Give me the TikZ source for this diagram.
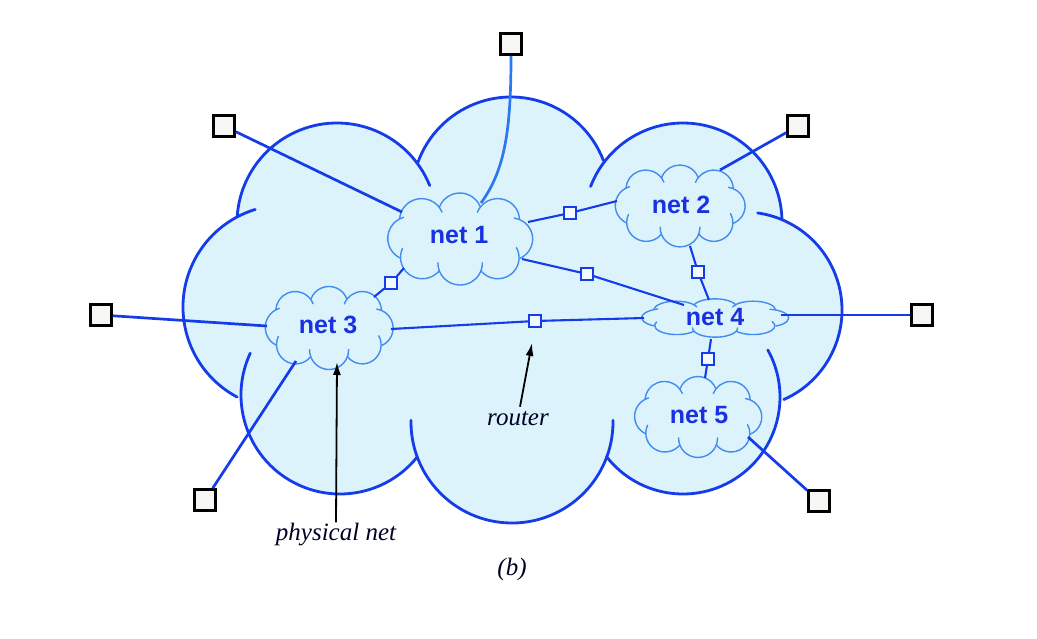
\documentclass[tikz,border=0pt]{standalone}
\usepackage{fontspec}
\setmainfont{Liberation Serif}
\newfontfamily\netfont{Liberation Sans}
\usetikzlibrary{arrows.meta}
\definecolor{cloudfill}{RGB}{221,243,252}
\definecolor{bigline}{RGB}{20,60,232}
\definecolor{smallline}{RGB}{65,140,238}
\definecolor{netblue}{RGB}{25,50,225}
\definecolor{hostfill}{RGB}{246,246,242}
\definecolor{topline}{RGB}{45,120,238}
\tikzset{
  pics/cloudy/.style={code={
    \fill[cloudfill] (-226.5,-3) circle[radius=102] (-174.5,-87) circle[radius=100]
      (-0.5,-114) circle[radius=99] (171.5,-88) circle[radius=99] (232.5,0) circle[radius=98]
      (171.5,87) circle[radius=97] (0.5,112) circle[radius=101] (-171.5,85) circle[radius=99];
    \fill[cloudfill] (-226.5,-3) -- (-174.5,-87) -- (-0.5,-114) -- (171.5,-88) -- (232.5,0)
      -- (171.5,87) -- (0.5,112) -- (-171.5,85) -- cycle;
    \draw[#1] (-226.5,-3) ++(-107:102) arc[start angle=-107,end angle=-242,radius=102];
    \draw[#1] (-174.5,-87) ++(-22:100) arc[start angle=-22,end angle=-176,radius=100];
    \draw[#1] (-0.5,-114) ++(-21:99) arc[start angle=-21,end angle=-160,radius=99];
    \draw[#1] (171.5,-88) ++(-2:99) arc[start angle=-2,end angle=-159,radius=99];
    \draw[#1] (232.5,0) ++(66:98) arc[start angle=66,end angle=-82,radius=98];
    \draw[#1] (171.5,87) ++(-218:97) arc[start angle=-218,end angle=-389,radius=97];
    \draw[#1] (0.5,112) ++(-179:101) arc[start angle=-179,end angle=-361,radius=101];
    \draw[#1] (-171.5,85) ++(-155:99) arc[start angle=-155,end angle=-321,radius=99];
  }},
  bigcloud/.style={draw=bigline, line width=2.8pt, line cap=round},
  smallcloud/.style={draw=smallline, line width=1.4pt, line cap=round},
  host/.style={draw=black, line width=2.6pt, fill=hostfill, minimum size=21pt, inner sep=0pt},
  router/.style={draw=bigline, line width=1.5pt, fill=cloudfill!40!white, minimum size=12pt, inner sep=0pt},
  hostline/.style={draw=bigline, line width=2.7pt},
  routerline/.style={draw=bigline, line width=2.1pt},
  nettext/.style={text=netblue, font=\netfont\bfseries\fontsize{25}{28}\selectfont, inner sep=0pt, anchor=base},
  lbl/.style={font=\itshape\fontsize{25}{28}\selectfont, inner sep=0pt, anchor=base, text=black!85!blue},
  pointer/.style={draw=black, line width=1.8pt, -{Latex[length=13pt,width=8pt]}}
}
\begin{document}
\begin{tikzpicture}[x=1pt,y=-1pt]
\useasboundingbox[fill=white] (0,0) rectangle (1037,638);
% big cloud
\pic at (511.5,310) {cloudy=bigcloud};
% small clouds
\pic[xscale=0.220,yscale=0.216] at (460,239) {cloudy=smallcloud};
\pic[xscale=0.197,yscale=0.192] at (680,206) {cloudy=smallcloud};
\pic[xscale=0.194,yscale=0.195] at (329,328) {cloudy=smallcloud};
\pic[xscale=0.223,yscale=0.090] at (715,318) {cloudy=smallcloud};
\pic[xscale=0.193,yscale=0.190] at (698,417) {cloudy=smallcloud};
% net labels
\node[nettext] (net1) at (459,243) {net 1};
\node[nettext] (net2) at (681,213) {net 2};
\node[nettext] (net3) at (328,333) {net 3};
\node[nettext] (net4) at (715,325) {net 4};
\node[nettext] (net5) at (699,423) {net 5};
% attach points on the small clouds
\coordinate (n1top) at (481,203);
\coordinate (n1w) at (402,212);
\coordinate (n1e) at (528,222);
\coordinate (n1se) at (522,259);
\coordinate (n1sw) at (404,268);
\coordinate (n2ne) at (720,170);
\coordinate (n2w) at (617,201);
\coordinate (n2s) at (690,246);
\coordinate (n3w) at (267,326);
\coordinate (n3sw) at (296,361);
\coordinate (n3ne) at (374,297);
\coordinate (n3e) at (391,329);
\coordinate (n4e) at (781,315);
\coordinate (n4nw) at (684,305);
\coordinate (n4n) at (709,300);
\coordinate (n4w) at (644,318);
\coordinate (n4s) at (711,339);
\coordinate (n5n) at (705,378);
\coordinate (n5se) at (748,437);
% hosts
\node[host] (hT) at (511,44) {};
\node[host] (hTL) at (224,126) {};
\node[host] (hTR) at (798,126) {};
\node[host] (hL) at (101,315) {};
\node[host] (hR) at (922,315) {};
\node[host] (hBL) at (205,500) {};
\node[host] (hBR) at (819,501) {};
% routers
\node[router] (r12) at (570,213) {};
\node[router] (r14) at (587,274) {};
\node[router] (r13) at (391,283) {};
\node[router] (r24) at (698,272) {};
\node[router] (r34) at (535,321) {};
\node[router] (r45) at (708,359) {};
% host lines
\draw[hostline, draw=topline] (hT.south) .. controls (511,130) and (505,170) .. (n1top);
\draw[hostline] (hTL) -- (n1w);
\draw[hostline] (hTR) -- (n2ne);
\draw[hostline] (hL) -- (n3w);
\draw[hostline] (hR) -- (n4e);
\draw[hostline] (hBL) -- (n3sw);
\draw[hostline] (hBR) -- (n5se);
% router lines
\draw[routerline] (n1e) -- (r12) -- (n2w);
\draw[routerline] (n1se) -- (r14) -- (n4nw);
\draw[routerline] (n1sw) -- (r13) -- (n3ne);
\draw[routerline] (n2s) -- (r24) -- (n4n);
\draw[routerline] (n3e) -- (r34) -- (n4w);
\draw[routerline] (n4s) -- (r45) -- (n5n);
% labels
\node[lbl] (rlbl) at (518,425) {router};
\node[lbl] (plbl) at (336,540) {physical net};
\node[lbl] (blbl) at (512,575) {(b)};
\coordinate (rtip) at (532,343);
\coordinate (ptip) at (337,362);
\draw[pointer] (rlbl.north) ++(2,-4) coordinate (rstart) -- (rtip);
\draw[pointer] (plbl.north) -- (ptip);
\end{tikzpicture}
\end{document}
